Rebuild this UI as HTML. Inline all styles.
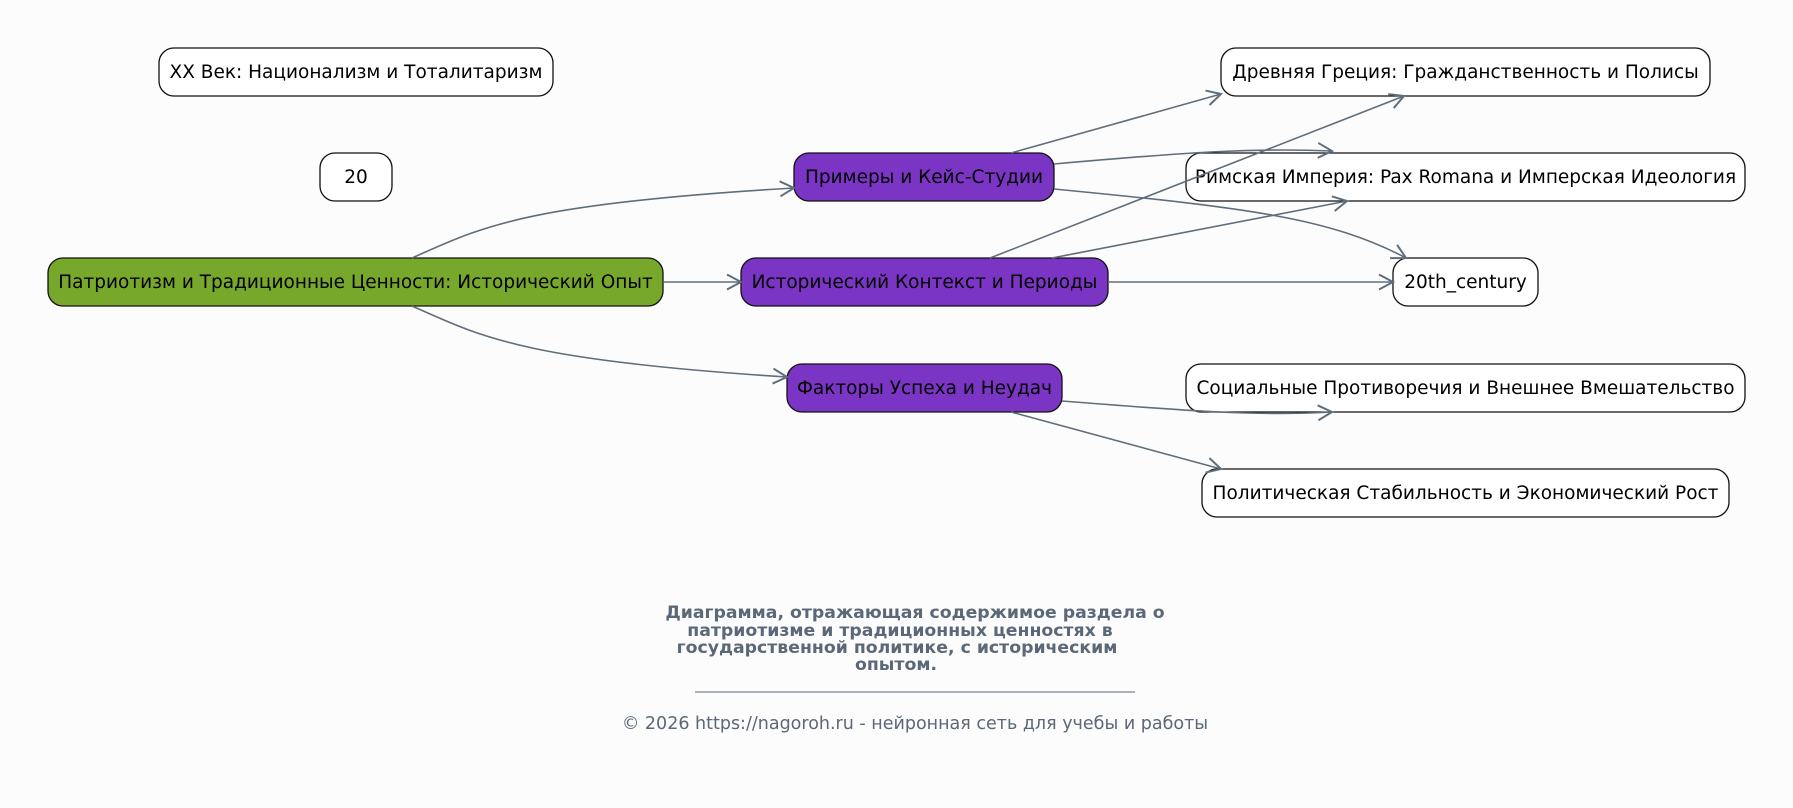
<!DOCTYPE html>
<html><head><meta charset="utf-8"><style>
body{margin:0;background:#fcfcfc;}
svg{display:block}
text{font-family:"DejaVu Sans","Liberation Sans",sans-serif;}
</style></head><body>
<svg width="1793" height="808" viewBox="0 0 1793 808" xmlns="http://www.w3.org/2000/svg">
<defs><marker id="a" markerWidth="18" markerHeight="18" refX="15" refY="9" orient="auto" markerUnits="userSpaceOnUse"><path d="M1,1.5 L15,9 L1,16.5" fill="none" stroke="#5f6e7c" stroke-width="2"/></marker></defs>
<rect width="1793" height="808" fill="#fcfcfc"/>
<g stroke="#111" stroke-width="1.3">
<rect x="159" y="48" width="394" height="48" rx="15" fill="#fff"/>
<rect x="320" y="153" width="72" height="48" rx="15" fill="#fff"/>
<rect x="48" y="258" width="615" height="48" rx="15" fill="#78a82b"/>
<rect x="794" y="153" width="260" height="48" rx="15" fill="#7a35c4"/>
<rect x="741" y="258" width="367" height="48" rx="15" fill="#7a35c4"/>
<rect x="787" y="364" width="275" height="48" rx="15" fill="#7a35c4"/>
<rect x="1221" y="48" width="489" height="48" rx="15" fill="#fff"/>
<rect x="1186" y="153" width="559" height="48" rx="15" fill="#fff"/>
<rect x="1393" y="258" width="145" height="48" rx="15" fill="#fff"/>
<rect x="1186" y="364" width="559" height="48" rx="15" fill="#fff"/>
<rect x="1202" y="469" width="527" height="48" rx="15" fill="#fff"/>
</g>
<g font-size="18.5" fill="#000" text-anchor="middle">
<text x="356" y="78">XX Век: Национализм и Тоталитаризм</text>
<text x="356" y="183">20</text>
<text x="355.5" y="288">Патриотизм и Традиционные Ценности: Исторический Опыт</text>
<text x="924" y="183">Примеры и Кейс-Студии</text>
<text x="924.5" y="288">Исторический Контекст и Периоды</text>
<text x="924.5" y="394">Факторы Успеха и Неудач</text>
<text x="1465.5" y="78">Древняя Греция: Гражданственность и Полисы</text>
<text x="1465.5" y="183">Римская Империя: Pax Romana и Имперская Идеология</text>
<text x="1465.5" y="288">20th_century</text>
<text x="1465.5" y="394">Социальные Противоречия и Внешнее Вмешательство</text>
<text x="1465.5" y="499">Политическая Стабильность и Экономический Рост</text>
</g>
<g fill="none" stroke="#5f6e7c" stroke-width="1.6" marker-end="url(#a)">
<path d="M412,258 C480,228 520,204 794,188"/>
<path d="M663,282 L741,282"/>
<path d="M412,306 C480,336 520,360 787,377"/>
<path d="M1011,153 L1221,94"/>
<path d="M1054,164 C1200,151 1260,148 1332,151"/>
<path d="M1054,189 C1250,208 1330,218 1406,258"/>
<path d="M990,258 L1404,96"/>
<path d="M1052,258 L1347,201"/>
<path d="M1108,282 L1393,282"/>
<path d="M1062,401 C1200,412 1260,416 1332,412"/>
<path d="M1011,412 L1221,469"/>
</g>
<g font-size="17.3" font-weight="bold" fill="#5a6878" text-anchor="middle">
<text x="915" y="618">Диаграмма, отражающая содержимое раздела о</text>
<text x="900" y="636">патриотизме и традиционных ценностях в</text>
<text x="897" y="653">государственной политике, с историческим</text>
<text x="896" y="670">опытом.</text>
</g>
<line x1="695" y1="692" x2="1135" y2="692" stroke="#5a6878" stroke-width="1"/>
<text x="915" y="729" font-size="17.5" fill="#5a6878" text-anchor="middle">© 2026 https://nagoroh.ru - нейронная сеть для учебы и работы</text>
</svg>
</body></html>
